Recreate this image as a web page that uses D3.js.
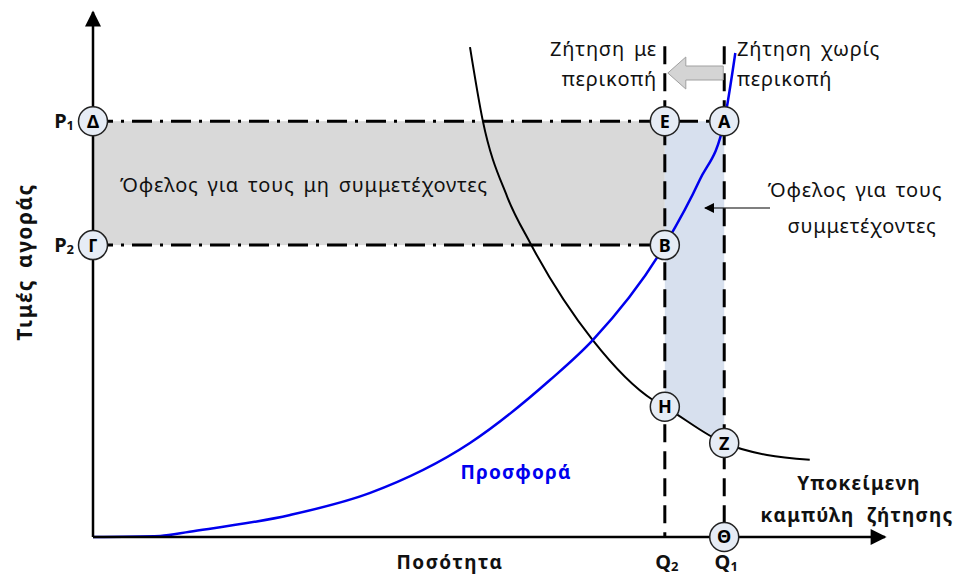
<!DOCTYPE html>
<html>
<head>
<meta charset="utf-8">
<script src="https://cdn.jsdelivr.net/npm/d3@7"></script>
<style>
  body { margin: 0; background: #fff; }
  text { font-family: "Noto Sans", "DejaVu Sans", sans-serif; }
</style>
</head>
<body>
<div id="chart"></div>
<script>
// quantities / prices in chart units (0..100 on both axes)
const Q2 = 72.2, Q1 = 79.7;
const P1 = 79.2, P2 = 55.6;

// supply curve (blue)
const supplyX = [0, 8.5, 12.2, 24.9, 35.0, 47.6, 57.7, 63.1, 72.2, 76.6, 79.7, 81.1];
const supplyY = [0, 0.2, 1.0, 4.2, 8.4, 17.9, 29.9, 37.5, 55.6, 68.0, 79.2, 92.2];

// underlying demand curve (black)
const demandX = [47.6, 49.2, 52.3, 55.2, 63.1, 70.7, 72.2, 79.7, 85.1, 90.5];
const demandY = [93.3, 79.4, 64.8, 56.0, 37.5, 26.1, 24.8, 17.9, 15.6, 14.7];

// lettered points
const pointNames = ["Δ", "Γ", "Ε", "Α", "Β", "Η", "Ζ", "Θ"];
const pointX = [0, 0, Q2, Q1, Q2, Q2, Q1, Q1];
const pointY = [P1, P2, P1, P1, P2, 24.8, 17.9, 0];

let conf = {
    div: '#chart',
    width: 958,
    height: 577,
    x0: 93, x1: 885,
    y0: 537, y1: 12
};

let x = d3.scaleLinear().domain([0, 100]).range([conf.x0, conf.x1]);
let y = d3.scaleLinear().domain([0, 100]).range([conf.y0, conf.y1]);

let svg = d3.select(conf.div)
    .append("svg")
    .attr("width", conf.width)
    .attr("height", conf.height);

let defs = svg.append("defs");
defs.append("marker")
    .attr("id", "head")
    .attr("viewBox", "0 0 10 10")
    .attr("refX", 9).attr("refY", 5)
    .attr("markerWidth", 12).attr("markerHeight", 10)
    .attr("markerUnits", "userSpaceOnUse")
    .attr("orient", "auto")
    .append("path")
    .attr("d", "M0,0 L10,5 L0,10 Z")
    .attr("fill", "#000");
defs.append("marker")
    .attr("id", "bigHead")
    .attr("viewBox", "0 0 10 10")
    .attr("refX", 9).attr("refY", 5)
    .attr("markerWidth", 20).attr("markerHeight", 16)
    .attr("markerUnits", "userSpaceOnUse")
    .attr("orient", "auto")
    .append("path")
    .attr("d", "M0,0 L10,5 L0,10 Z")
    .attr("fill", "#000");

let supply = supplyX.map((d, i) => ({ q: d, p: supplyY[i] }));
let demand = demandX.map((d, i) => ({ q: d, p: demandY[i] }));

let line = d3.line().curve(d3.curveMonotoneX)
    .x(d => x(d.q)).y(d => y(d.p));

// grey area: benefit for non participants
svg.append("rect")
    .attr("x", x(0)).attr("y", y(P1))
    .attr("width", x(Q2) - x(0)).attr("height", y(P2) - y(P1))
    .attr("fill", "#d9d9d9");

// blue area between Q2 and Q1, from P1 down to the demand curve
let dInside = demand.filter(d => d.q >= Q2 && d.q <= Q1);
let area = d3.area().curve(d3.curveMonotoneX)
    .x(d => x(d.q)).y0(y(P1)).y1(d => y(d.p));
svg.append("path")
    .datum(dInside)
    .attr("fill", "#d7e0ee")
    .attr("d", area);

// dash-dot price lines
svg.append("line")
    .attr("x1", x(0)).attr("x2", x(Q1))
    .attr("y1", y(P1)).attr("y2", y(P1))
    .attr("stroke", "#000").attr("stroke-width", 3)
    .attr("stroke-dasharray", "20,8,3,8");
svg.append("line")
    .attr("x1", x(0)).attr("x2", x(Q2))
    .attr("y1", y(P2)).attr("y2", y(P2))
    .attr("stroke", "#000").attr("stroke-width", 3)
    .attr("stroke-dasharray", "20,8,3,8");

// dashed demand lines
[Q2, Q1].forEach(q => {
    svg.append("line")
        .attr("x1", x(q)).attr("x2", x(q))
        .attr("y1", y(93.5)).attr("y2", y(0))
        .attr("stroke", "#000").attr("stroke-width", 3)
        .attr("stroke-dasharray", "18,9");
});

// curves
svg.append("path")
    .datum(demand)
    .attr("fill", "none")
    .attr("stroke", "#000")
    .attr("stroke-width", 2)
    .attr("d", line);
svg.append("path")
    .datum(supply)
    .attr("fill", "none")
    .attr("stroke", "#0000ee")
    .attr("stroke-width", 2.5)
    .attr("d", line);

// axes
svg.append("line")
    .attr("x1", x(0)).attr("y1", y(0))
    .attr("x2", x(0)).attr("y2", y(100))
    .attr("stroke", "#000").attr("stroke-width", 2.5)
    .attr("marker-end", "url(#bigHead)");
svg.append("line")
    .attr("x1", x(0)).attr("y1", y(0))
    .attr("x2", x(100)).attr("y2", y(0))
    .attr("stroke", "#000").attr("stroke-width", 2.5)
    .attr("marker-end", "url(#bigHead)");

// grey block arrow (shift of demand)
let ay = 73;
let ax1 = x(Q1) - 1, ax0 = x(Q2) + 3;
svg.append("path")
    .attr("d", `M${ax1},${ay - 7} L${ax0 + 18},${ay - 7} L${ax0 + 18},${ay - 16} L${ax0},${ay} L${ax0 + 18},${ay + 16} L${ax0 + 18},${ay + 7} L${ax1},${ay + 7} Z`)
    .attr("fill", "#d4d4d4")
    .attr("stroke", "#a0a0a0")
    .attr("stroke-width", 1);

// pointer to blue area
svg.append("line")
    .attr("x1", 770).attr("y1", 208)
    .attr("x2", 705).attr("y2", 208)
    .attr("stroke", "#000").attr("stroke-width", 1.2)
    .attr("marker-end", "url(#head)");

// lettered circles
let pts = svg.selectAll(".pt")
    .data(pointNames)
    .enter().append("g")
    .attr("transform", (d, i) => `translate(${x(pointX[i])},${y(pointY[i])})`);
pts.append("circle")
    .attr("r", 14.5)
    .attr("fill", "#e6ecf5")
    .attr("stroke", "#222")
    .attr("stroke-width", 1.5);
pts.append("text")
    .attr("text-anchor", "middle")
    .attr("dy", "0.36em")
    .attr("font-size", 18)
    .attr("font-weight", "bold")
    .text(d => d);

// texts
function addText(t, px, py, opts) {
    opts = opts || {};
    return svg.append("text")
        .attr("x", px).attr("y", py)
        .attr("text-anchor", opts.anchor || "start")
        .attr("font-size", opts.size || 20)
        .attr("font-weight", opts.bold ? "bold" : "normal")
        .attr("letter-spacing", opts.ls != null ? opts.ls : 0.8)
        .attr("word-spacing", opts.ws != null ? opts.ws : 3)
        .attr("fill", opts.color || "#111")
        .text(t);
}

addText("Ζήτηση με", 657, 56, { anchor: "end" });
addText("περικοπή", 657, 86, { anchor: "end" });
addText("Ζήτηση χωρίς", 737, 56);
addText("περικοπή", 737, 86);
addText("Όφελος για τους μη συμμετέχοντες", 120, 192);
addText("Όφελος για τους", 855, 197, { anchor: "middle" });
addText("συμμετέχοντες", 862, 233, { anchor: "middle" });
addText("Προσφορά", 516, 479, { anchor: "middle", bold: true, color: "#0000ee", size: 19, ls: 1.2 });
addText("Υποκείμενη", 859, 490, { anchor: "middle", bold: true, size: 19, ls: 1.2 });
addText("καμπύλη ζήτησης", 857, 522, { anchor: "middle", bold: true, size: 19, ls: 1.2, ws: 6 });
addText("Ποσότητα", 450, 569, { anchor: "middle", bold: true, size: 19, ls: 1.5 });

// axis labels with subscripts
function subLabel(main, sub, px, py, anchor) {
    let t = addText(main, px, py, { anchor: anchor, bold: true, size: 20, ls: 0, ws: 0 });
    t.append("tspan").attr("font-size", 13).attr("dy", 2).text(sub);
}
subLabel("Q", "2", x(Q2) + 2, 569, "middle");
subLabel("Q", "1", x(Q1) + 2, 569, "middle");
subLabel("P", "1", 74, y(P1) + 7, "end");
subLabel("P", "2", 74, y(P2) + 7, "end");

svg.append("text")
    .attr("transform", "translate(32,262) rotate(-90)")
    .attr("text-anchor", "middle")
    .attr("font-size", 21)
    .attr("font-weight", "bold")
    .attr("letter-spacing", 1.5)
    .attr("word-spacing", 4)
    .attr("fill", "#111")
    .text("Τιμές αγοράς");
</script>
</body>
</html>
